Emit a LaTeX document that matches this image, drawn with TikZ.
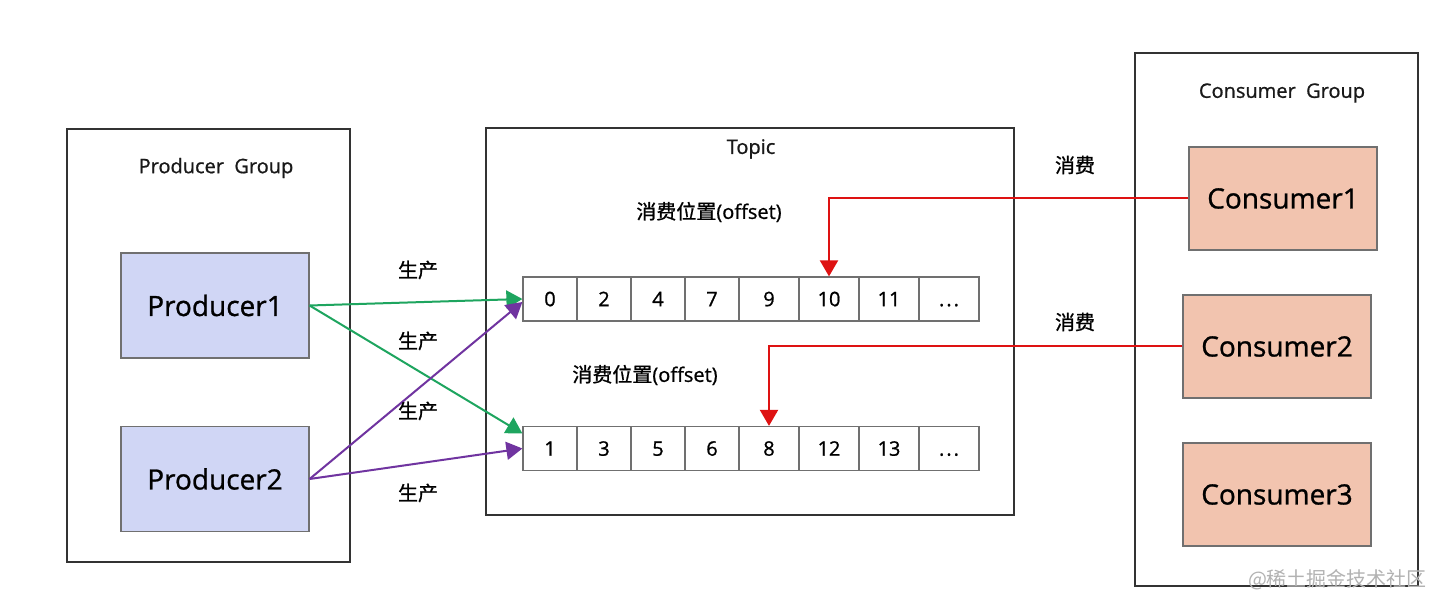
\documentclass[tikz,border=0pt]{standalone}
\usepackage{fontspec}
\setmainfont{Open Sans}
\newfontfamily\medfont[FakeBold=0.9]{Open Sans}
\newfontfamily\cjk[FakeBold=0.9]{Noto Sans CJK SC}
\newfontfamily\markfont{Noto Sans CJK SC}
\usetikzlibrary{arrows.meta}

\definecolor{prodfill}{RGB}{208,214,245}
\definecolor{consfill}{RGB}{242,196,175}
\definecolor{boxline}{RGB}{112,112,112}
\definecolor{prodgreen}{RGB}{30,165,95}
\definecolor{prodpurple}{RGB}{112,52,160}
\definecolor{consred}{RGB}{222,18,18}

\begin{document}
\begin{tikzpicture}[x=0.5pt,y=-0.5pt,
  group/.style={draw=black!80, line width=0.6pt, minimum width=141.5pt, inner sep=0pt},
  title/.style={font=\medfont\fontsize{10}{12}\selectfont, text=black!90},
  producer/.style={draw=boxline, fill=prodfill, line width=0.6pt, minimum width=94pt, minimum height=52.5pt, font=\medfont\fontsize{14}{16}\selectfont, text=black},
  consumer/.style={draw=boxline, fill=consfill, line width=0.6pt, minimum width=94pt, minimum height=51.5pt, font=\medfont\fontsize{14}{16}\selectfont, text=black},
  cell/.style={draw=boxline, line width=0.6pt, minimum height=22pt, inner sep=0pt, text height=7.2pt, text depth=0pt, font=\medfont\fontsize{10}{12}\selectfont},
  lbl/.style={font=\cjk\fontsize{10}{12}\selectfont},
  tip/.style={-{Triangle[length=8pt,width=9pt]}, line width=1pt}]
  \useasboundingbox (0,0) rectangle (1452,608);
  \fill[white] (0,0) rectangle (1452,608);

  % группы
  \node[group, minimum height=216.5pt] (pgroup) at (208.5,345.5) {};
  \node[group, minimum width=264pt, minimum height=193.5pt] (topic) at (750,321.5) {};
  \node[group, minimum height=266.5pt] (cgroup) at (1276.5,319.5) {};
  \node[title] (ptitle) at (216,168) {Producer\ \ Group};
  \node[title] (ttitle) at (751,149) {Topic};
  \node[title] (ctitle) at (1282,93) {Consumer\ \ Group};

  % producer / consumer
  \node[producer] (p1) at (215,305.5) {Producer1};
  \node[producer] (p2) at (215,479) {Producer2};
  \node[consumer] (c1) at (1283,198.5) {Consumer1};
  \node[consumer] (c2) at (1277,346.5) {Consumer2};
  \node[consumer] (c3) at (1277,494.5) {Consumer3};

  % очереди
  \foreach \v/\cx/\w [count=\i] in {0/550/54,2/604/54,4/658/54,7/712/54,9/769/60,10/829/60,11/889/60,{.\kern1pt.\kern1pt.}/949/60}
    \node[cell, minimum width=\w*0.5pt] (a\i) at (\cx,299) {\v};
  \foreach \v/\cx/\w [count=\i] in {1/550/54,3/604/54,5/658/54,6/712/54,8/769/60,12/829/60,13/889/60,{.\kern1pt.\kern1pt.}/949/60}
    \node[cell, minimum width=\w*0.5pt] (b\i) at (\cx,448.5) {\v};

  \node[lbl] (off1) at (709,212) {消费位置\medfont(offset)};
  \node[lbl] (off2) at (645,375) {消费位置\medfont(offset)};

  % стрелки
  \draw[tip, prodgreen] (p1.east) -- (a1.west);
  \draw[tip, prodgreen] (p1.east) -- ([yshift=7.5pt]b1.west);
  \draw[tip, prodpurple] (p2.east) -- ([yshift=-1.5pt]a1.west);
  \draw[tip, prodpurple] (p2.east) -- (b1.west);
  \node[lbl] (w1) at (418,270) {生产};
  \node[lbl] (w2) at (418,341) {生产};
  \node[lbl] (w3) at (418,411) {生产};
  \node[lbl] (w4) at (418,493) {生产};

  \draw[tip, consred] (c1.west) -| (a6.north);
  \draw[tip, consred] (c2.west) -| (b5.north);
  \node[lbl] (r1) at (1075,165) {消费};
  \node[lbl] (r2) at (1075,322) {消费};

  \node[font=\markfont\fontsize{10}{12}\selectfont, text=black!30, anchor=east] (mark) at (1434,580) {@稀土掘金技术社区};
\end{tikzpicture}
\end{document}
